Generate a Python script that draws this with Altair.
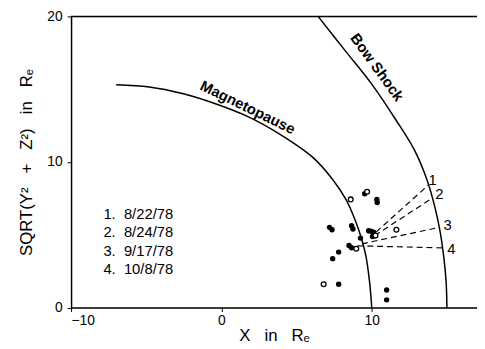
import altair as alt
import pandas as pd

# Magnetopause curve (X, sqrt(Y^2+Z^2)) in Re
mp_x = [-7.0, -4.8, -2.6, -0.4, 1.8, 3.9, 6.1, 7.4, 8.3, 8.9, 9.3, 9.6, 9.85, 10.0]
mp_y = [15.3, 15.15, 14.7, 14.0, 13.1, 11.9, 10.3, 8.8, 7.4, 6.0, 4.8, 3.6, 1.8, 0.0]

# Bow shock curve
bs_x = [6.43, 8.27, 10.0, 11.6, 12.85, 13.7, 14.2, 14.55, 14.8, 14.95, 15.0]
bs_y = [20.0, 17.6, 15.35, 12.9, 10.8, 8.7, 6.9, 5.2, 3.4, 1.7, 0.0]

# Filled (solid) points
filled_x = [9.53, 10.34, 10.36, 7.19, 7.36, 8.66, 8.75, 9.79, 9.95, 10.12, 10.23, 10.05,
            9.25, 8.49, 8.66, 7.8, 7.4, 7.8, 10.99, 10.99]
filled_y = [7.82, 7.42, 7.22, 5.51, 5.35, 5.62, 5.4, 5.28, 5.25, 5.17, 4.94, 4.88,
            4.77, 4.26, 4.11, 3.81, 3.36, 1.6, 1.21, 0.53]

# Open points
open_x = [8.6, 9.69, 11.64, 10.25, 8.97, 6.8]
open_y = [7.43, 7.96, 5.35, 4.95, 4.04, 1.6]

# Dashed trajectory lines
line_id = ["1", "2", "3", "4"]
line_x0 = [10.3, 10.2, 9.35, 9.05]
line_y0 = [5.2, 4.95, 4.38, 4.24]
line_x1 = [13.75, 14.0, 14.45, 14.7]
line_y1 = [8.4, 7.5, 5.5, 4.1]
lab_x = [14.05, 14.5, 15.05, 15.3]
lab_y = [8.75, 7.8, 5.65, 4.05]

NB = "\u00a0"
# Legend text
legend_txt = ["1." + NB * 2 + "8/22/78", "2." + NB * 2 + "8/24/78",
              "3." + NB * 2 + "9/17/78", "4." + NB * 2 + "10/8/78"]
legend_x = [-7.85, -7.85, -7.85, -7.85]
legend_y = [6.42, 5.19, 3.90, 2.61]

# Curve labels
curve_lab = ["Magnetopause", "Bow Shock"]
curve_lab_x = [1.75, 10.35]
curve_lab_y = [13.75, 16.5]
curve_lab_ang = [26, 54]

FONT = "Liberation Sans"
xs = alt.Scale(domain=[-10, 17], nice=False, zero=False)
ys = alt.Scale(domain=[0, 20], nice=False, zero=False)

mp = pd.DataFrame({"x": mp_x, "y": mp_y, "o": range(len(mp_x))})
bs = pd.DataFrame({"x": bs_x, "y": bs_y, "o": range(len(bs_x))})
fp = pd.DataFrame({"x": filled_x, "y": filled_y})
op = pd.DataFrame({"x": open_x, "y": open_y})
ln = pd.DataFrame({"id": line_id, "x": line_x0, "y": line_y0, "x2": line_x1, "y2": line_y1,
                   "lx": lab_x, "ly": lab_y})
lg = pd.DataFrame({"t": legend_txt, "x": legend_x, "y": legend_y})
cl = pd.DataFrame({"t": curve_lab, "x": curve_lab_x, "y": curve_lab_y, "a": curve_lab_ang})
top = pd.DataFrame({"x": [-10], "x2": [17], "y": [20]})

S3 = NB * 3
xax = alt.Axis(values=[-10, 0, 10], title="X" + S3 + "in" + S3 + "Rₑ", grid=False,
               domainColor="black", tickColor="black", tickSize=4, labelFont=FONT,
               labelFontSize=14, labelColor="black", titleFont=FONT, titleFontSize=17,
               titleFontWeight="normal", titleColor="black", labelPadding=2,
               titleY=28, titleBaseline="middle", domainWidth=1.5)
yax = alt.Axis(values=[0, 10, 20], title="SQRT(Y²" + S3 + "+" + S3 + "Z²)" + S3 + "in" + S3 + "Rₑ",
               grid=False, domainColor="black", tickColor="black", tickSize=4,
               labelFont=FONT, labelFontSize=14, labelColor="black", titleFont=FONT,
               titleFontSize=17, titleFontWeight="normal", titleColor="black",
               labelPadding=5, titleX=-45, titleBaseline="middle", domainWidth=1.5)

base_mp = alt.Chart(mp).mark_line(color="black", strokeWidth=1.5, interpolate="catmull-rom").encode(
    x=alt.X("x:Q", scale=xs, axis=xax),
    y=alt.Y("y:Q", scale=ys, axis=yax),
    order="o:Q",
)
base_bs = alt.Chart(bs).mark_line(color="black", strokeWidth=1.5, interpolate="catmull-rom").encode(
    x=alt.X("x:Q", scale=xs), y=alt.Y("y:Q", scale=ys), order="o:Q"
)
top_rule = alt.Chart(top).mark_rule(color="black", strokeWidth=1.5).encode(
    x=alt.X("x:Q", scale=xs), x2="x2:Q", y=alt.Y("y:Q", scale=ys)
)
dash = alt.Chart(ln).mark_rule(color="black", strokeWidth=1.2, strokeDash=[6, 4]).encode(
    x=alt.X("x:Q", scale=xs), y=alt.Y("y:Q", scale=ys), x2="x2:Q", y2="y2:Q"
)
dash_lab = alt.Chart(ln).mark_text(font=FONT, fontSize=15, color="black", align="center",
                                   baseline="middle").encode(
    x=alt.X("lx:Q", scale=xs), y=alt.Y("ly:Q", scale=ys), text="id:N"
)
pts_f = alt.Chart(fp).mark_circle(color="black", size=30, opacity=1).encode(
    x=alt.X("x:Q", scale=xs), y=alt.Y("y:Q", scale=ys)
)
pts_o = alt.Chart(op).mark_point(shape="circle", color="black", fill="white", filled=False,
                                 size=24, strokeWidth=1.3, opacity=1).encode(
    x=alt.X("x:Q", scale=xs), y=alt.Y("y:Q", scale=ys)
)
legend = alt.Chart(lg).mark_text(font=FONT, fontSize=15, color="black", align="left",
                                 baseline="middle").encode(
    x=alt.X("x:Q", scale=xs), y=alt.Y("y:Q", scale=ys), text="t:N"
)
clabs = alt.Chart(cl).mark_text(font=FONT, fontSize=15, fontWeight="bold", color="black",
                                align="center", baseline="middle").encode(
    x=alt.X("x:Q", scale=xs), y=alt.Y("y:Q", scale=ys), text="t:N",
    angle=alt.Angle("a:Q", scale=None)
)

chart = alt.layer(base_mp, base_bs, top_rule, dash, dash_lab, pts_f, pts_o, legend, clabs).properties(
    width=412, height=295.5,
    autosize=alt.AutoSizeParams(type="none"),
    padding={"left": 64, "top": 6, "right": 0, "bottom": 38},
).configure_view(stroke=None).configure(background="white")

chart.save("out.html", embed_options={"renderer": "svg", "actions": False})
